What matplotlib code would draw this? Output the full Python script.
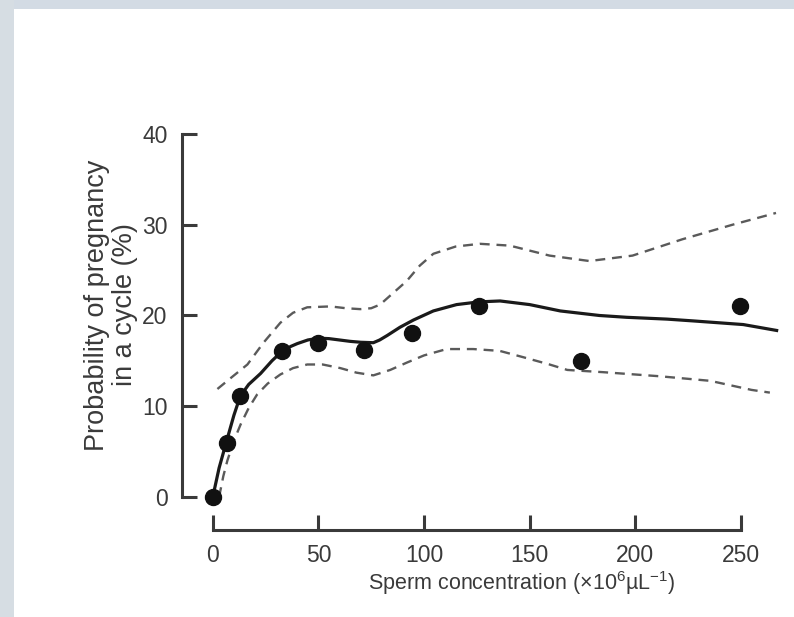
import matplotlib
matplotlib.use("Agg")
import matplotlib.pyplot as plt
from matplotlib.patches import Rectangle

# Observed data points
conc = [0, 6.6, 13.0, 33.0, 50.0, 71.8, 94.5, 125.8, 174.5, 249.6]
prob = [0, 5.9, 11.1, 16.1, 17.0, 16.2, 18.1, 21.1, 15.0, 21.0]

# Fitted curve
fit_x = [0, 3, 6.6, 10, 13, 17, 22.6, 28, 33, 37, 40, 45, 50, 55, 60, 65, 70,
         76, 79, 82.6, 88.6, 95, 104.4, 115.4, 126, 136, 150, 164.5, 183,
         195.9, 215, 227.5, 251.1, 266.9]
fit_y = [0, 3.2, 6.2, 9.0, 11.1, 12.4, 13.6, 15.0, 16.1, 16.6, 16.9, 17.3,
         17.5, 17.45, 17.3, 17.15, 17.05, 17.0, 17.3, 17.8, 18.7, 19.5, 20.5,
         21.2, 21.5, 21.6, 21.2, 20.5, 20.0, 19.8, 19.6, 19.4, 19.0, 18.35]

# Upper confidence bound
up_x = [2.2, 9, 16.4, 24, 32, 38, 44.7, 55.7, 63, 69.8, 75, 79.2, 85, 91.8,
        98, 104.4, 115, 126.4, 140.6, 159.4, 178.3, 198.7, 222.3, 246, 266.6]
up_y = [11.9, 13.2, 14.6, 17.0, 19.2, 20.3, 20.9, 21.0, 20.8, 20.7, 20.8,
        21.2, 22.4, 23.8, 25.5, 26.8, 27.6, 27.9, 27.7, 26.6, 26.0, 26.6,
        28.4, 30.0, 31.3]

# Lower confidence bound
lo_x = [3, 5, 6.9, 10, 13.2, 17, 21, 26, 32, 38, 44.7, 52, 60.4, 68, 76, 84,
        91.8, 100, 110.7, 123.3, 135.8, 147, 159.4, 167.8, 184.9, 211.7,
        235.4, 255, 263.7]
lo_y = [0, 2.3, 4.0, 6.2, 8.0, 9.8, 11.3, 12.5, 13.5, 14.2, 14.6, 14.6, 14.2,
        13.7, 13.4, 14.0, 14.8, 15.6, 16.3, 16.3, 16.1, 15.4, 14.6, 14.0,
        13.75, 13.3, 12.8, 11.8, 11.5]

xticks = [0, 50, 100, 150, 200, 250]
yticks = [0, 10, 20, 30, 40]

plt.rcParams['font.family'] = ['Liberation Sans', 'DejaVu Sans']
plt.rcParams['mathtext.fontset'] = 'custom'
plt.rcParams['mathtext.rm'] = 'Liberation Sans'
plt.rcParams['mathtext.it'] = 'Liberation Sans:italic'
plt.rcParams['mathtext.bf'] = 'Liberation Sans:bold'
plt.rcParams['mathtext.default'] = 'regular'

W, H = 794, 617
fig = plt.figure(figsize=(W / 100, H / 100), dpi=100)
fig.patch.set_facecolor('white')
# light frame strips (top and left)
fig.patches.append(Rectangle((0, 1 - 9 / H), 1, 9 / H, transform=fig.transFigure,
                             facecolor='#d3dbe4', edgecolor='none', zorder=0))
fig.patches.append(Rectangle((0, 0), 14 / W, 1, transform=fig.transFigure,
                             facecolor='#d6dde3', edgecolor='none', zorder=0))

left_px, right_px = 181.5, 776
bottom_px, top_px = 530, 134
ax = fig.add_axes([left_px / W, (H - bottom_px) / H,
                   (right_px - left_px) / W, (bottom_px - top_px) / H])
ax.set_facecolor('none')

ax.set_xlim(-14.8, 266.6)
ax.set_ylim(-3.64, 40.0)

axcol = '#3a3a3a'
for s in ['top', 'right']:
    ax.spines[s].set_visible(False)
for s in ['left', 'bottom']:
    ax.spines[s].set_linewidth(2.2)
    ax.spines[s].set_color(axcol)
ax.spines['left'].set_bounds(0, 40)
ax.spines['bottom'].set_bounds(0, 250)

ax.set_xticks(xticks)
ax.set_yticks(yticks)
ax.tick_params(axis='both', direction='in', length=11, width=2.2, color=axcol,
               labelsize=16.5, labelcolor='#3a3a3a')
ax.tick_params(axis='y', pad=10)
ax.tick_params(axis='x', pad=10)

dash = (0, (4.2, 2.9))
ax.plot(up_x, up_y, color='#5a5a5a', lw=1.7, linestyle=dash, clip_on=False)
ax.plot(lo_x, lo_y, color='#5a5a5a', lw=1.7, linestyle=dash, clip_on=False)
ax.plot(fit_x, fit_y, color='#1a1a1a', lw=2.3, clip_on=False,
        solid_joinstyle='round')
ax.plot(conc, prob, 'o', color='#111111', markersize=11.5, clip_on=False,
        zorder=5)

fig.text(522 / W, (H - 590) / H,
         'Sperm concentration (\u00d710$^{6}$\u00b5L$^{-1}$)',
         ha='center', va='baseline', fontsize=15.5, color='#3a3a3a')
fig.text(111 / W, 1 - 305 / H, 'Probability of pregnancy\nin a cycle (%)',
         rotation=90, ha='center', va='center', multialignment='center',
         fontsize=19.5, linespacing=1.05, color='#3a3a3a')

fig.savefig('out.png', dpi=100)
